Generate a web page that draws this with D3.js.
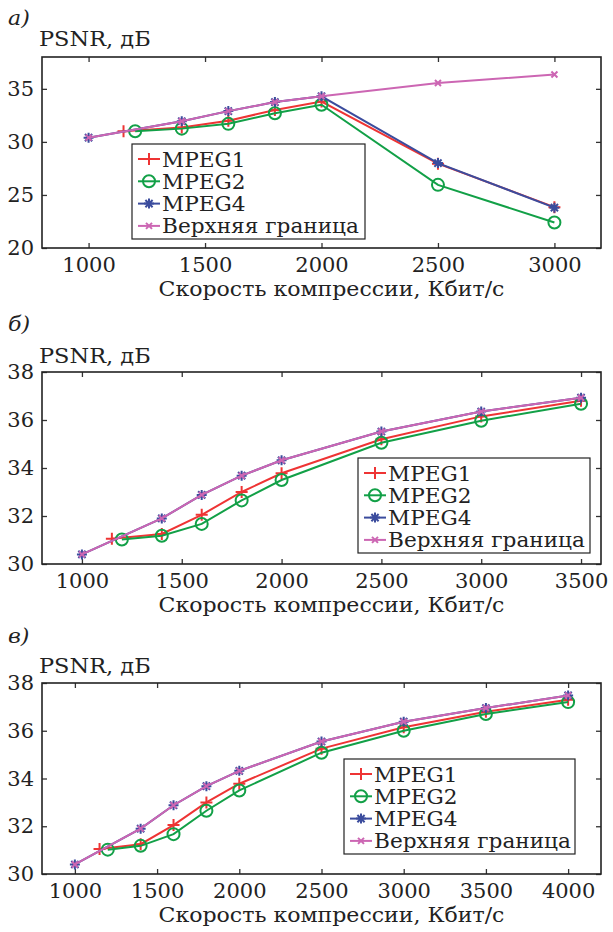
<!DOCTYPE html>
<html>
<head>
<meta charset="utf-8">
<script src="https://cdn.jsdelivr.net/npm/d3@7"></script>
<style>
  body { margin: 0; background: #fff; }
  svg text { font-family: "DejaVu Serif", serif; fill: #222; }
</style>
</head>
<body>
<svg id="chart" width="613" height="932"></svg>
<script>
var seriesNames = ["MPEG1", "MPEG2", "MPEG4", "Верхняя граница"];
var seriesColors = ["#ee3434", "#12a047", "#3b4c9d", "#cc66b3"];
var seriesMarks = ["plus", "circle", "star", "cross"];

// panel а
var aMpeg1X = [1150, 1400, 1600, 1800, 2000, 2500, 3000];
var aMpeg1 = [31.0, 31.35, 32.0, 33.0, 33.8, 27.95, 23.85];
var aMpeg2X = [1200, 1400, 1600, 1800, 2000, 2500, 3000];
var aMpeg2 = [31.0, 31.25, 31.7, 32.7, 33.5, 25.95, 22.4];
var aMpeg4X = [1000, 1400, 1600, 1800, 2000, 2500, 3000];
var aMpeg4 = [30.4, 31.95, 32.9, 33.75, 34.3, 28.0, 23.8];
var aUpperX = [1000, 1400, 1600, 1800, 2000, 2500, 3000];
var aUpper = [30.4, 31.95, 32.9, 33.75, 34.3, 35.55, 36.35];
var aXTicks = [1000, 1500, 2000, 2500, 3000];
var aYTicks = [20, 25, 30, 35];

// panel б
var bMpeg1X = [1150, 1400, 1600, 1800, 2000, 2500, 3000, 3500];
var bMpeg1 = [31.05, 31.25, 32.05, 33.0, 33.78, 35.2, 36.15, 36.8];
var bMpeg2X = [1200, 1400, 1600, 1800, 2000, 2500, 3000, 3500];
var bMpeg2 = [31.02, 31.18, 31.67, 32.65, 33.5, 35.05, 35.97, 36.68];
var bMpeg4X = [1000, 1400, 1600, 1800, 2000, 2500, 3000, 3500];
var bMpeg4 = [30.4, 31.9, 32.88, 33.68, 34.32, 35.52, 36.35, 36.93];
var bUpperX = [1000, 1400, 1600, 1800, 2000, 2500, 3000, 3500];
var bUpper = [30.4, 31.9, 32.88, 33.68, 34.32, 35.52, 36.35, 36.93];
var bXTicks = [1000, 1500, 2000, 2500, 3000, 3500];
var bYTicks = [30, 32, 34, 36, 38];

// panel в
var cMpeg1X = [1150, 1400, 1600, 1800, 2000, 2500, 3000, 3500, 4000];
var cMpeg1 = [31.05, 31.25, 32.05, 33.0, 33.78, 35.25, 36.15, 36.8, 37.3];
var cMpeg2X = [1200, 1400, 1600, 1800, 2000, 2500, 3000, 3500, 4000];
var cMpeg2 = [31.02, 31.18, 31.67, 32.65, 33.5, 35.08, 36.0, 36.7, 37.2];
var cMpeg4X = [1000, 1400, 1600, 1800, 2000, 2500, 3000, 3500, 4000];
var cMpeg4 = [30.4, 31.9, 32.88, 33.68, 34.32, 35.55, 36.38, 36.95, 37.48];
var cUpperX = [1000, 1400, 1600, 1800, 2000, 2500, 3000, 3500, 4000];
var cUpper = [30.4, 31.9, 32.88, 33.68, 34.32, 35.55, 36.38, 36.95, 37.48];
var cXTicks = [1000, 1500, 2000, 2500, 3000, 3500, 4000];
var cYTicks = [30, 32, 34, 36, 38];

var panels = [
  { tag: "а)", tagY: 25, unitY: 46, top: 57, bottom: 248, xDom: [800, 3200], yDom: [20, 38],
    xs: [aMpeg1X, aMpeg2X, aMpeg4X, aUpperX], ys: [aMpeg1, aMpeg2, aMpeg4, aUpper],
    xTicks: aXTicks, yTicks: aYTicks, leg: { x: 132, y: 144, w: 233, h: 95 } },
  { tag: "б)", tagY: 331, unitY: 363, top: 372, bottom: 564, xDom: [800, 3600], yDom: [30, 38],
    xs: [bMpeg1X, bMpeg2X, bMpeg4X, bUpperX], ys: [bMpeg1, bMpeg2, bMpeg4, bUpper],
    xTicks: bXTicks, yTicks: bYTicks, leg: { x: 358, y: 458, w: 232, h: 95 } },
  { tag: "в)", tagY: 643, unitY: 673, top: 683, bottom: 874, xDom: [800, 4200], yDom: [30, 38],
    xs: [cMpeg1X, cMpeg2X, cMpeg4X, cUpperX], ys: [cMpeg1, cMpeg2, cMpeg4, cUpper],
    xTicks: cXTicks, yTicks: cYTicks, leg: { x: 344, y: 759, w: 231, h: 95 } }
];

var left = 42, right = 601, fs = 21;
var svg = d3.select("#chart");

function marker(g, kind, color) {
  var d;
  if (kind == "plus") d = "M-6,0H6M0,-6V6";
  else if (kind == "star") d = "M-5,0H5M0,-5V5M-3.6,-3.6L3.6,3.6M-3.6,3.6L3.6,-3.6";
  else if (kind == "cross") d = "M-3,-3L3,3M-3,3L3,-3";
  if (kind == "circle") {
    g.append("circle").attr("r", 6)
      .attr("stroke", color).attr("stroke-width", 2).attr("fill", "none");
  } else {
    g.append("path").attr("d", d)
      .attr("stroke", color).attr("stroke-width", 2).attr("fill", "none");
  }
}

// slightly wide lettering, as in the printed figure
function wideText(g, x, y, str, size, sx) {
  return g.append("text")
    .attr("transform", "translate(" + x + "," + y + ") scale(" + sx + ",1)")
    .style("font-size", size + "px").text(str);
}

panels.forEach(function(p) {
  var x = d3.scaleLinear().domain(p.xDom).range([left, right]);
  var y = d3.scaleLinear().domain(p.yDom).range([p.bottom, p.top]);
  var g = svg.append("g");

  wideText(g, 8, p.tagY, p.tag, fs, 1.05).style("font-style", "italic");
  wideText(g, 39, p.unitY, "PSNR, дБ", fs, 1.07);

  // inward ticks on all four sides
  var tl = 5;
  g.append("g").attr("transform", "translate(0," + p.bottom + ")")
    .call(d3.axisBottom(x).tickValues(p.xTicks).tickFormat(d3.format("d"))
      .tickSizeInner(-tl).tickSizeOuter(0).tickPadding(9));
  g.append("g").attr("transform", "translate(0," + p.top + ")")
    .call(d3.axisTop(x).tickValues(p.xTicks).tickSizeInner(-tl).tickSizeOuter(0).tickFormat(""));
  g.append("g").attr("transform", "translate(" + left + ",0)")
    .call(d3.axisLeft(y).tickValues(p.yTicks).tickFormat(d3.format("d"))
      .tickSizeInner(-tl).tickSizeOuter(0).tickPadding(8));
  g.append("g").attr("transform", "translate(" + right + ",0)")
    .call(d3.axisRight(y).tickValues(p.yTicks).tickSizeInner(-tl).tickSizeOuter(0).tickFormat(""));
  g.selectAll(".domain").remove();
  g.selectAll(".tick line").attr("stroke", "#333").attr("stroke-width", 1.3);
  g.selectAll(".tick text").style("font-size", fs + "px")
    .style("font-family", "'DejaVu Serif', serif").attr("fill", "#222");

  g.append("rect").attr("x", left).attr("y", p.top)
    .attr("width", right - left).attr("height", p.bottom - p.top)
    .attr("fill", "none").attr("stroke", "#222").attr("stroke-width", 1.6);

  wideText(g, (left + right) / 2 + 10, p.bottom + 48, "Скорость компрессии, Кбит/с", fs, 1.05)
    .attr("text-anchor", "middle");

  var line = d3.line().x(function(d) { return x(d[0]); }).y(function(d) { return y(d[1]); });
  seriesNames.forEach(function(name, i) {
    var pts = p.xs[i].map(function(v, j) { return [v, p.ys[i][j]]; });
    g.append("path").datum(pts).attr("d", line)
      .attr("fill", "none").attr("stroke", seriesColors[i]).attr("stroke-width", 2);
    pts.forEach(function(d) {
      var m = g.append("g").attr("transform", "translate(" + x(d[0]) + "," + y(d[1]) + ")");
      marker(m, seriesMarks[i], seriesColors[i]);
    });
  });

  // legend
  var lg = g.append("g").attr("transform", "translate(" + p.leg.x + "," + p.leg.y + ")");
  lg.append("rect").attr("width", p.leg.w).attr("height", p.leg.h)
    .attr("fill", "#fff").attr("stroke", "#222").attr("stroke-width", 1.2);
  seriesNames.forEach(function(name, i) {
    var cy = 15 + i * 22.3;
    lg.append("line").attr("x1", 6).attr("x2", 28).attr("y1", cy).attr("y2", cy)
      .attr("stroke", seriesColors[i]).attr("stroke-width", 2);
    var m = lg.append("g").attr("transform", "translate(17," + cy + ")");
    marker(m, seriesMarks[i], seriesColors[i]);
    wideText(lg, 30, cy + 7.5, name, 21, 1.03);
  });
});
</script>
</body>
</html>
